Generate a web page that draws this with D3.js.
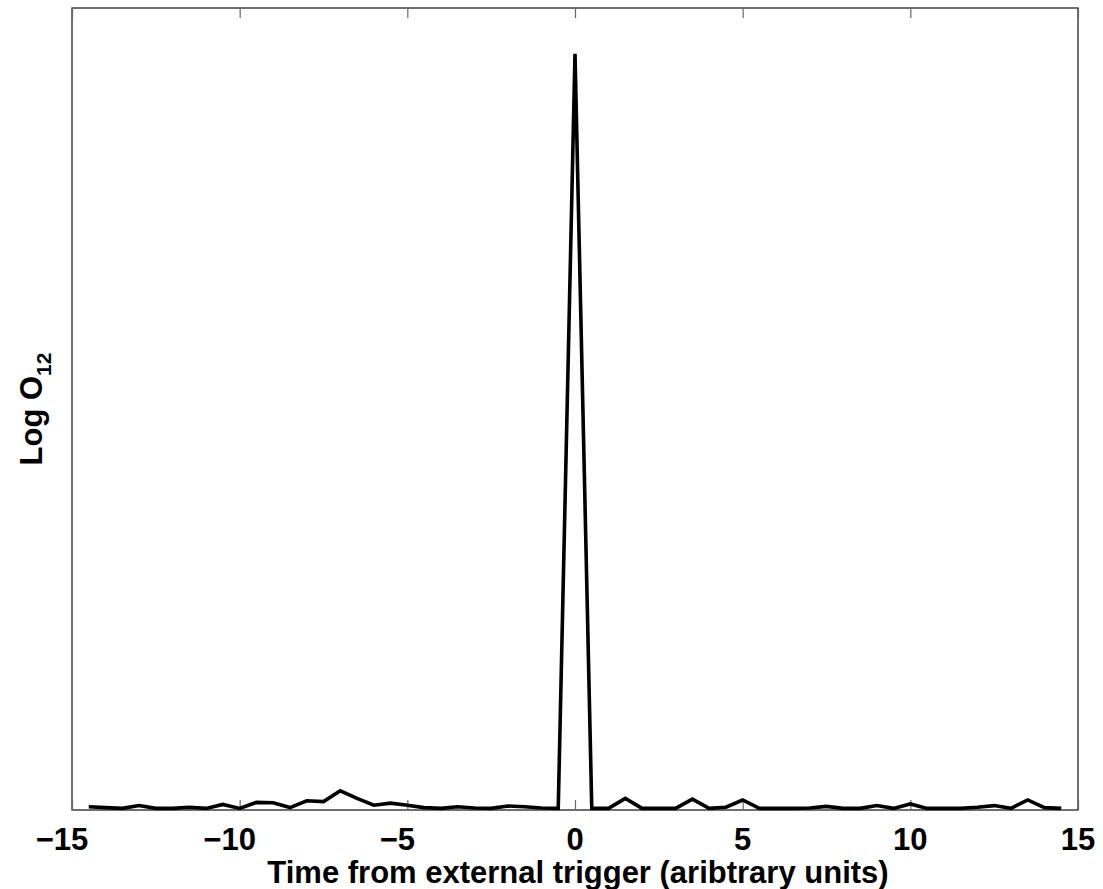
<!DOCTYPE html>
<html>
<head>
<meta charset="utf-8">
<script src="https://d3js.org/d3.v7.min.js"></script>
<style>
  body { margin: 0; background: #fff; }
  text { font-family: "Liberation Sans", Arial, Helvetica, sans-serif; font-weight: bold; }
</style>
</head>
<body>
<svg id="chart" width="1103" height="889"></svg>
<script>
// time axis (step 0.5) and Log O12 values
const times = [-14.5, -14, -13.5, -13, -12.5, -12, -11.5, -11, -10.5, -10, -9.5, -9, -8.5, -8, -7.5,
    -7, -6.5, -6, -5.5, -5, -4.5, -4, -3.5, -3, -2.5, -2, -1.5, -1, -0.5, 0,
    0.5, 1, 1.5, 2, 2.5, 3, 3.5, 4, 4.5, 5, 5.5, 6, 6.5, 7, 7.5,
    8, 8.5, 9, 9.5, 10, 10.5, 11, 11.5, 12, 12.5, 13, 13.5, 14, 14.5];
const logO12 = [0.4, 0.3, 0.2, 0.55, 0.2, 0.2, 0.35, 0.2, 0.7, 0.2, 0.95, 0.9, 0.3, 1.15, 1.05,
    2.4, 1.45, 0.6, 0.85, 0.6, 0.3, 0.2, 0.4, 0.25, 0.2, 0.5, 0.4, 0.25, 0.2, 94.3,
    0.2, 0.2, 1.45, 0.2, 0.2, 0.2, 1.35, 0.2, 0.35, 1.25, 0.2, 0.2, 0.2, 0.25, 0.45,
    0.2, 0.2, 0.55, 0.2, 0.75, 0.2, 0.2, 0.2, 0.35, 0.55, 0.2, 1.25, 0.3, 0.2];
const xTicks = [-15, -10, -5, 0, 5, 10, 15];
const xDomain = [-15, 15];
const yDomain = [0, 100];

(function () {
    const svg = d3.select("svg#chart");
    const mLeft = 72, mRight = 1078, mTop = 8, mBottom = 810;

    const x = d3.scaleLinear().domain(xDomain).range([mLeft, mRight]);
    const y = d3.scaleLinear().domain(yDomain).range([mBottom, mTop]);

    const data = times.map((t, i) => ({ t: t, v: logO12[i] }));

    // box
    svg.append("rect")
        .attr("x", mLeft)
        .attr("y", mTop)
        .attr("width", mRight - mLeft)
        .attr("height", mBottom - mTop)
        .attr("fill", "white")
        .attr("stroke", "#222")
        .attr("stroke-width", 1.3);

    // inward ticks, bottom and top
    svg.append("g")
        .attr("transform", `translate(0,${mBottom})`)
        .call(d3.axisBottom(x).tickValues(xTicks).tickSizeInner(-10).tickSizeOuter(0).tickFormat(""))
        .call(g => g.select(".domain").remove())
        .call(g => g.selectAll("line").attr("stroke", "#666").attr("stroke-width", 1.2));
    svg.append("g")
        .attr("transform", `translate(0,${mTop})`)
        .call(d3.axisTop(x).tickValues(xTicks).tickSizeInner(-10).tickSizeOuter(0).tickFormat(""))
        .call(g => g.select(".domain").remove())
        .call(g => g.selectAll("line").attr("stroke", "#666").attr("stroke-width", 1.2));

    // tick labels (minus sign hangs left of the digits)
    svg.append("g").selectAll("text")
        .data(xTicks)
        .join("text")
        .attr("x", d => x(d))
        .attr("y", 850)
        .attr("dx", d => d < 0 ? -10 : 0)
        .attr("text-anchor", "middle")
        .attr("font-size", 31)
        .attr("fill", "black")
        .text(d => d < 0 ? "\u2212" + Math.abs(d) : d);

    // data line
    const line = d3.line().x(d => x(d.t)).y(d => y(d.v));
    svg.append("path")
        .datum(data)
        .attr("d", line)
        .attr("fill", "none")
        .attr("stroke", "black")
        .attr("stroke-width", 3.6)
        .attr("stroke-linejoin", "miter");

    // axis titles
    svg.append("text")
        .attr("x", (mLeft + mRight) / 2 + 3)
        .attr("y", 883)
        .attr("text-anchor", "middle")
        .attr("font-size", 31)
        .text("Time from external trigger (aribtrary units)");

    const ylab = svg.append("text")
        .attr("transform", `translate(42,${(mTop + mBottom) / 2}) rotate(-90)`)
        .attr("text-anchor", "middle")
        .attr("font-size", 31);
    ylab.append("tspan").text("Log O");
    ylab.append("tspan").attr("dy", 9).attr("font-size", 21).text("12");
})();
</script>
</body>
</html>
